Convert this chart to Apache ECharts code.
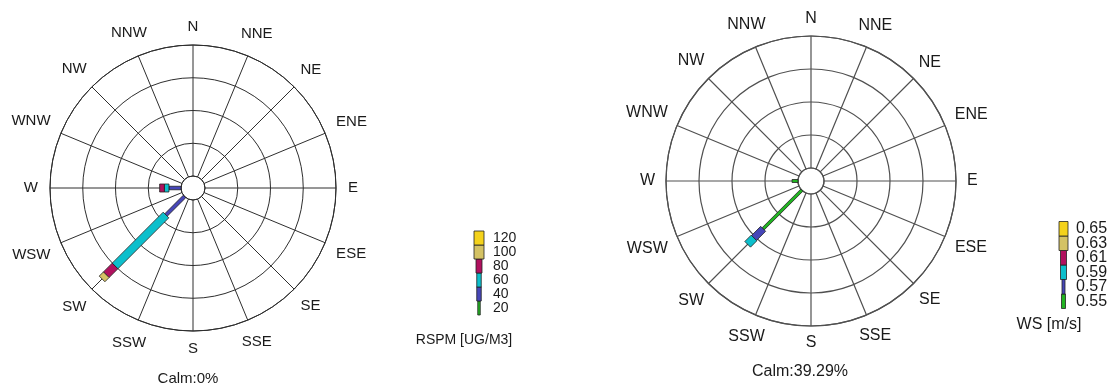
<!DOCTYPE html>
<html><head><meta charset="utf-8">
<script src="https://cdn.jsdelivr.net/npm/echarts@6/dist/echarts.min.js"></script>
<style>html,body{margin:0;padding:0;background:#fff}#c{width:1109px;height:387px}</style>
</head><body><div id="c"></div>
<script>
// ---------- data ----------
const directions = ['N','NNE','NE','ENE','E','ESE','SE','SSE','S','SSW','SW','WSW','W','WNW','NW','NNW'];
const classColors = ['#22b422','#4646b8','#0cbfcc','#b0105e','#d4c264','#f4d21c'];
const rspmClasses = ['20','40','60','80','100','120'];
const wsClasses = ['0.55','0.57','0.59','0.61','0.63','0.65'];
// frequency (%) per direction (N..NNW) for each RSPM class
const rspm20  = [0,0,0,0,0,0,0,0,0,0,0,0,0,0,0,0];
const rspm40  = [0,0,0,0,0,0,0,0,0,0,20,0,9.2,0,0,0];
const rspm60  = [0,0,0,0,0,0,0,0,0,0,55,0,3.5,0,0,0];
const rspm80  = [0,0,0,0,0,0,0,0,0,0,9.5,0,3.6,0,0,0];
const rspm100 = [0,0,0,0,0,0,0,0,0,0,4.5,0,0,0,0,0];
const rspm120 = [0,0,0,0,0,0,0,0,0,0,0,0,0,0,0,0];
// frequency (%) per direction for each wind-speed class
const ws055 = [0,0,0,0,0,0,0,0,0,0,41.4,0,4.5,0,0,0];
const ws057 = [0,0,0,0,0,0,0,0,0,0,9.8,0,0,0,0,0];
const ws059 = [0,0,0,0,0,0,0,0,0,0,6.8,0,0,0,0,0];
const ws061 = [0,0,0,0,0,0,0,0,0,0,0,0,0,0,0,0];
const ws063 = [0,0,0,0,0,0,0,0,0,0,0,0,0,0,0,0];
const ws065 = [0,0,0,0,0,0,0,0,0,0,0,0,0,0,0,0];
const calmLeft = 'Calm:0%';
const calmRight = 'Calm:39.29%';
const titleLeft = 'RSPM [UG/M3]';
const titleRight = 'WS [m/s]';
const radiusMax = 100, radiusStep = 25;

// ---------- styling ----------
const FONT = '"Liberation Sans", Arial, Helvetica, sans-serif';
const leftWidths = [2.5, 3.5, 8, 8, 8, 8];
const rightWidths = [3, 7, 8, 8, 8, 8];

function stackItems(classArrays) {
  const items = [];
  directions.forEach((d, i) => {
    let cum = 0;
    classArrays.forEach((arr, c) => {
      const v = arr[i];
      if (v > 0) { items.push([cum, i * 22.5, cum + v, c]); cum += v; }
    });
  });
  return items;
}

function barSeries(polarIndex, classArrays, widths) {
  return {
    type: 'custom', coordinateSystem: 'polar', polarIndex: polarIndex, silent: true,
    data: stackItems(classArrays),
    renderItem: function (params, api) {
      const r0 = api.value(0), ang = api.value(1), r1 = api.value(2), c = api.value(3);
      const p0 = api.coord([r0, ang]), p1 = api.coord([r1, ang]);
      let dx = p1[0] - p0[0], dy = p1[1] - p0[1];
      const L = Math.hypot(dx, dy) || 1; dx /= L; dy /= L;
      const hw = widths[c] / 2, nx = -dy * hw, ny = dx * hw;
      return {
        type: 'polygon',
        shape: { points: [[p0[0]+nx, p0[1]+ny], [p1[0]+nx, p1[1]+ny], [p1[0]-nx, p1[1]-ny], [p0[0]-nx, p0[1]-ny]] },
        style: { fill: classColors[c], stroke: '#222', lineWidth: 0.8 }
      };
    }
  };
}

const mctx = document.createElement('canvas').getContext('2d');
function labelSeries(polarIndex, fontSize, gap, capH) {
  const font = fontSize + 'px ' + FONT;
  mctx.font = font;
  return {
    type: 'custom', coordinateSystem: 'polar', polarIndex: polarIndex, silent: true,
    data: directions.map((d, i) => [radiusMax, i * 22.5, i]),
    renderItem: function (params, api) {
      const ang = api.value(1), idx = api.value(2);
      const text = directions[idx];
      const p = api.coord([api.value(0), ang]);
      const p0 = api.coord([0, ang]);
      let ux = p[0] - p0[0], uy = p[1] - p0[1];
      const L = Math.hypot(ux, uy) || 1; ux /= L; uy /= L;
      mctx.font = font;
      const w = mctx.measureText(text).width;
      const off = gap + 0.5 * (Math.abs(ux) * w + Math.abs(uy) * capH);
      return {
        type: 'text',
        x: p[0] + ux * off, y: p[1] + uy * off,
        style: { text: text, fill: '#1a1a1a', font: font, align: 'center', verticalAlign: 'middle' }
      };
    }
  };
}

function legendGraphics(classes, cx, bottom, segH, widths, labelX, fontSize) {
  const g = [];
  classes.forEach((lab, i) => {
    const w = widths[i];
    g.push({ type: 'rect', silent: true,
      shape: { x: cx - w / 2, y: bottom - (i + 1) * segH, width: w, height: segH },
      style: { fill: classColors[i], stroke: '#222', lineWidth: 0.8 } });
    g.push({ type: 'text', silent: true, x: labelX, y: bottom - (i + 0.5) * segH,
      style: { text: lab, fill: '#1a1a1a', font: fontSize + 'px ' + FONT, align: 'left', verticalAlign: 'middle' } });
  });
  return g;
}

function centerText(text, x, y, fontSize) {
  return { type: 'text', silent: true, x: x, y: y,
    style: { text: text, fill: '#1a1a1a', font: fontSize + 'px ' + FONT, align: 'center', verticalAlign: 'middle' } };
}

function angleAxis(polarIndex, color, lw) {
  return { polarIndex: polarIndex, type: 'value', min: 0, max: 360, interval: 22.5, startAngle: 90, clockwise: true,
    axisLine: { show: true, lineStyle: { color: color, width: lw } },
    axisTick: { show: false }, axisLabel: { show: false },
    splitLine: { show: true, lineStyle: { color: color, width: lw } } };
}
function radiusAxis(polarIndex, color, lw) {
  return { polarIndex: polarIndex, type: 'value', min: 0, max: radiusMax, interval: radiusStep,
    axisLine: { show: false }, axisTick: { show: false }, axisLabel: { show: false },
    splitLine: { show: true, lineStyle: { color: color, width: lw } } };
}

const chart = echarts.init(document.getElementById('c'), null, { renderer: 'canvas' });
chart.setOption({
  backgroundColor: '#ffffff',
  animation: false,
  polar: [
    { center: [193, 188], radius: [12, 143] },
    { center: [811, 181], radius: [13, 145] }
  ],
  angleAxis: [angleAxis(0, '#2e2e2e', 1), angleAxis(1, '#505050', 1.2)],
  radiusAxis: [radiusAxis(0, '#2e2e2e', 1), radiusAxis(1, '#505050', 1.2)],
  series: [
    barSeries(0, [rspm20, rspm40, rspm60, rspm80, rspm100, rspm120], leftWidths),
    barSeries(1, [ws055, ws057, ws059, ws061, ws063, ws065], rightWidths),
    labelSeries(0, 15, 12, 12),
    labelSeries(1, 16, 11, 12)
  ],
  graphic: [].concat(
    legendGraphics(rspmClasses, 479, 315, 14, [2.5, 4.5, 4.5, 6, 10, 10], 493, 14),
    legendGraphics(wsClasses, 1063.5, 308.5, 14.5, [4, 3, 6, 6, 9, 9], 1076, 16),
    [centerText(calmLeft, 188, 379, 15), centerText(titleLeft, 464, 340, 14),
     centerText(calmRight, 800, 372, 16), centerText(titleRight, 1049, 325, 16)]
  )
});
</script></body></html>
